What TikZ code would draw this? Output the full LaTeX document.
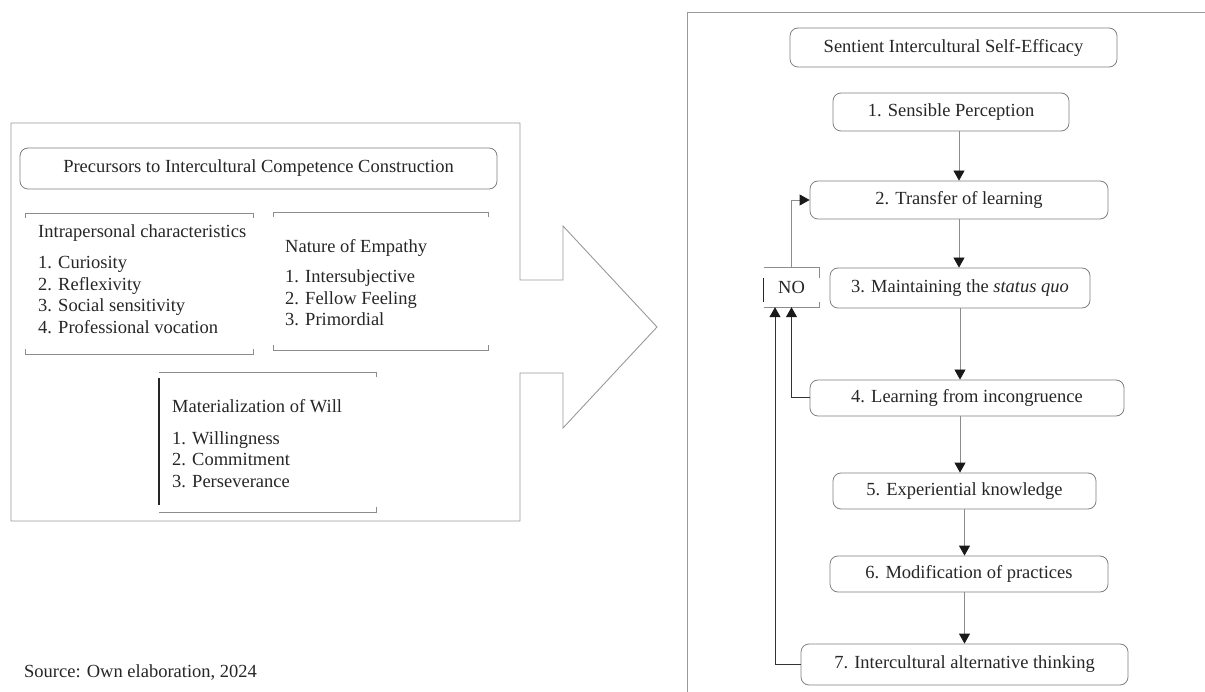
\documentclass[tikz,border=0pt]{standalone}
\usepackage{fontspec}
\setmainfont{Liberation Serif}
\usetikzlibrary{arrows.meta,calc}

\tikzset{
  stage/.style={draw=black!50, rounded corners=8pt, line width=0.8pt, inner sep=0pt, text=black!85},
  flow/.style={draw=black!45, line width=0.8pt, -{Triangle[length=10pt,width=11pt,color=black!90]}},
  loopback/.style={draw=black!80, line width=1pt, -{Triangle[length=10pt,width=11pt,color=black!90]}},
  frame/.style={draw=black!40, line width=0.9pt},
  bracket/.style={draw=black!45, line width=0.8pt},
  sideline/.style={draw=black!85, line width=1.2pt},
  itemtext/.style={anchor=base west, align=left, inner sep=0pt, text=black!85},
}

\begin{document}
\begin{tikzpicture}[x=1pt, y=-1pt, font=\fontsize{18.5}{21.5}\selectfont]
\useasboundingbox (0,0) rectangle (1205,692);

% left block with its arrow
\draw[frame] (11,123) -- (520,123) -- (520,280) -- (563,280) -- (563,226) -- (657,327)
  -- (563,428) -- (563,373) -- (520,373) -- (520,521) -- (11,521) -- cycle;

\node[stage, minimum width=477pt, minimum height=41pt] (precursors) at (258.5,168.5)
  {Precursors to Intercultural Competence Construction};

% intrapersonal (anchor = last line)
\draw[bracket] (25,218) -- (25,213) -- (253,213) -- (253,218)
  (25,349) -- (25,354) -- (253,354) -- (253,349);
\node[itemtext] (intra) at (38,333.5) {Intrapersonal characteristics\\[10pt]
  1. Curiosity\\ 2. Reflexivity\\ 3. Social sensitivity\\ 4. Professional vocation};

% empathy
\draw[bracket] (273,217) -- (273,212) -- (488,212) -- (488,217)
  (273,345) -- (273,350) -- (488,350) -- (488,345);
\node[itemtext] (empathy) at (285,326) {Nature of Empathy\\[8.5pt]
  1. Intersubjective\\ 2. Fellow Feeling\\ 3. Primordial};

% will
\draw[bracket] (159,372) -- (376,372) -- (376,377)
  (159,512) -- (376,512) -- (376,507);
\draw[sideline] (159,378) -- (159,505);
\node[itemtext] (will) at (172,487) {Materialization of Will\\[10pt]
  1. Willingness\\ 2. Commitment\\ 3. Perseverance};

\node[anchor=base west, inner sep=0pt, text=black!85] (source) at (24,677)
  {Source: Own elaboration, 2024};

% right panel
\draw[frame] (1205,12) -- (687,12) -- (687,692);

\node[stage, minimum width=327pt, minimum height=39pt] (efficacy) at (953.5,47.5)
  {Sentient Intercultural Self-Efficacy};
\node[stage, minimum width=236pt, minimum height=38pt] (perception) at (951,112)
  {1. Sensible Perception};
\node[stage, minimum width=298pt, minimum height=38pt] (transfer) at (959,200)
  {2. Transfer of learning};
\node[stage, minimum width=260pt, minimum height=40pt] (statusquo) at (960,288)
  {3. Maintaining the \textit{status quo}};
\node[stage, minimum width=314pt, minimum height=36pt] (incongruence) at (967,398)
  {4. Learning from incongruence};
\node[stage, minimum width=263pt, minimum height=36pt] (experiential) at (964.5,491)
  {5. Experiential knowledge};
\node[stage, minimum width=278pt, minimum height=36pt] (modification) at (969,574)
  {6. Modification of practices};
\node[stage, minimum width=327pt, minimum height=41pt] (alternative) at (964.5,664.5)
  {7. Intercultural alternative thinking};

\node[minimum width=55pt, minimum height=39pt, inner sep=0pt, text=black!85] (no) at (791.5,287.5) {NO};
\draw[bracket] (no.north west) -- (no.north east) -- ++(0,10)
  (no.south west) -- (no.south east) -- ++(0,-5);
\draw[sideline] ($(no.north west)+(0,10)$) -- ($(no.south west)+(0,-5)$);

\draw[flow] (perception.south -| transfer.north) -- (transfer.north);
\draw[flow] (transfer.south) -- (transfer.south |- statusquo.north);
\draw[flow] (statusquo.south) -- (statusquo.south |- incongruence.north);
\draw[flow] (incongruence.south -| statusquo.south) -- (experiential.north -| statusquo.south);
\draw[flow] (experiential.south) -- (experiential.south |- modification.north);
\draw[flow] (modification.south -| alternative.north) -- (alternative.north);

\draw[loopback] (incongruence.west) -| (no.south);
\draw[loopback] (alternative.west) -| ($(no.south)+(-16.5,0)$);
\draw[flow] (no.north) |- (transfer.west);

\end{tikzpicture}
\end{document}
